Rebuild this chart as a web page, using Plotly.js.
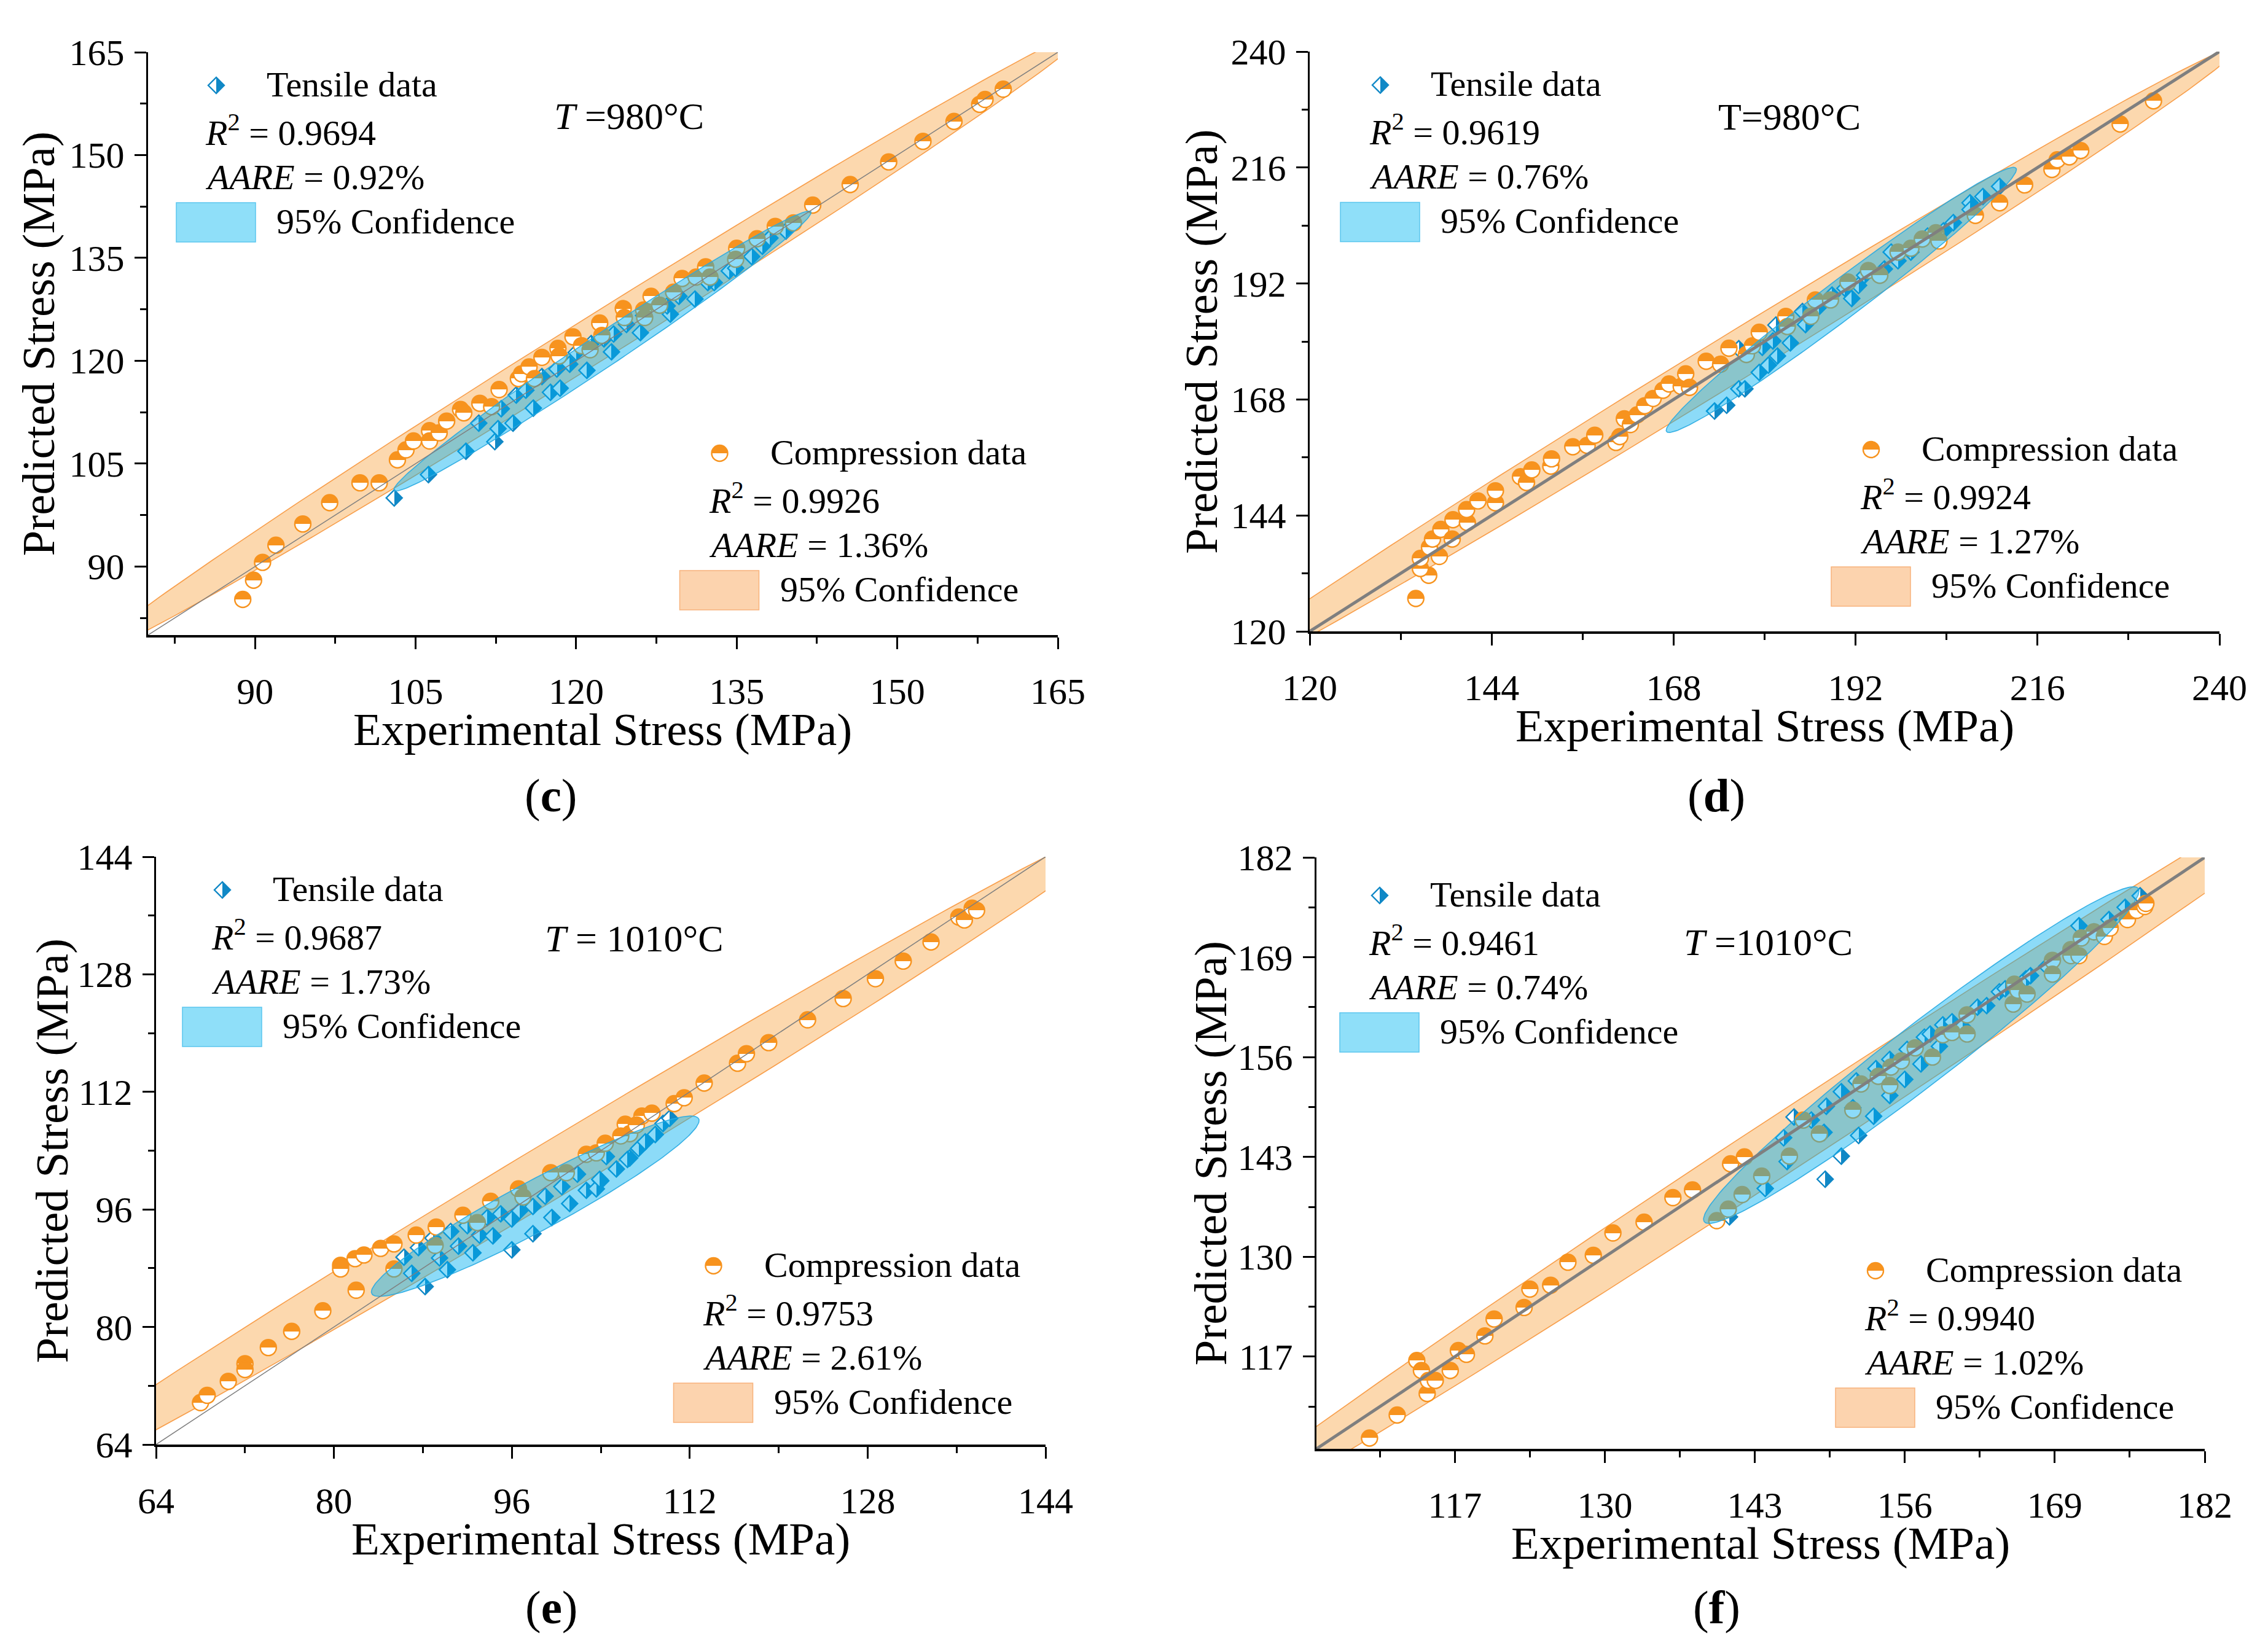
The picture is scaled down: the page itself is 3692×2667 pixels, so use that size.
<!DOCTYPE html>
<html><head><meta charset="utf-8">
<script src="https://cdn.plot.ly/plotly-3.0.1.min.js"></script>
<style>html,body{margin:0;padding:0;background:#fff}</style>
</head><body>
<div id="chart" style="width:3692px;height:2667px"></div>
<script>
// ---------------- DATA ----------------
// (c) T = 980°C
const cTensileX = [103.0,106.2,109.7,112.4,112.7,114.1,116.0,117.6,118.5,121.0,123.3,126.0,128.8,131.1,132.9,134.3,136.4,137.4,139.6,110.9,113.0,114.4,115.3,116.8,118.2,119.4,120.0,121.4,122.6,123.5,124.7,126.3,128.5,129.6,132.3,134.9,138.1];
const cTensileY = [100.0,103.4,106.8,108.2,110.1,110.9,113.1,115.4,116.0,118.6,121.3,124.1,126.8,129.0,131.4,133.1,135.2,136.7,138.9,110.9,113.0,115.0,115.7,117.7,118.8,119.5,121.2,122.5,123.2,123.9,125.3,126.6,128.0,129.4,131.4,133.5,137.9];
const cCompressionX = [88.85,89.86,90.7,91.95,94.46,96.97,99.8,101.6,103.3,104.1,104.8,106.3,106.3,107.2,107.9,109.2,109.5,111.0,112.1,112.8,114.6,114.9,115.6,116.1,116.8,118.3,118.4,119.7,120.5,121.3,122.2,122.4,124.4,124.5,126.3,126.4,127.0,127.8,129.1,129.9,131.2,132.1,132.5,135.0,134.9,136.9,138.6,140.3,142.1,145.6,149.2,152.4,155.3,157.7,158.2,159.9];
const cCompressionY = [85.2,88.0,90.6,93.1,96.2,99.3,102.2,102.2,105.55,107.0,108.3,109.8,108.3,109.5,111.2,112.9,112.4,113.8,113.3,115.8,117.4,118.1,119.1,117.4,120.5,121.8,120.7,123.5,122.2,121.6,125.5,123.7,127.6,126.3,127.4,126.3,129.4,128.1,130.0,132.0,132.2,133.7,132.2,136.4,134.8,137.8,139.6,140.1,142.7,145.7,149.0,152.0,154.9,157.4,158.1,159.6];

// (d) T = 980°C
const dTensileX = [173.4,175.0,176.6,177.4,179.3,180.5,181.7,176.6,179.7,181.5,183.4,181.1,185.4,185.0,187.2,188.9,190.6,192.4,193.2,195.8,197.6,196.7,199.3,201.5,203.6,204.9,207.1,208.8,211.0,207.1,191.5];
const dTensileY = [165.6,166.8,170.2,170.2,173.6,175.1,177.0,178.5,178.8,183.4,179.7,180.1,183.5,186.2,187.2,189.6,191.0,191.6,193.7,195.0,196.7,198.5,198.5,201.8,202.9,204.6,208.7,210.0,212.1,207.3,188.9];
const dCompressionX = [134.0,135.7,134.6,134.6,137.1,135.8,136.2,137.3,138.8,138.9,140.8,140.7,142.2,144.5,144.5,147.8,148.6,149.3,151.8,151.9,154.7,156.6,157.6,160.4,160.9,161.5,162.3,163.2,164.2,165.3,166.6,167.4,169.0,169.6,170.1,172.3,174.2,175.3,177.6,178.4,179.3,182.8,183.0,186.7,186.1,188.7,191.0,193.7,195.2,197.6,199.3,200.8,202.6,203.0,207.8,211.0,214.3,217.9,218.6,220.2,221.7,226.9,231.3];
const dCompressionY = [126.8,131.6,133.0,135.1,135.5,137.4,139.1,141.1,139.1,143.1,142.5,145.2,147.0,146.6,149.1,152.0,150.8,153.4,154.2,155.7,158.2,158.5,160.6,159.1,160.3,164.0,162.8,164.8,166.7,168.2,169.9,171.2,170.7,173.3,170.5,175.9,175.3,178.6,177.3,179.1,181.9,185.2,183.1,188.6,185.2,188.6,192.3,194.7,193.7,198.5,199.3,201.2,202.5,200.8,206.1,208.7,212.4,215.6,217.6,218.2,219.5,225.0,229.8];

// (e) T = 1010°C
const eTensileX = [86.3,87.0,88.2,87.6,88.9,89.5,90.2,90.5,91.2,92.0,92.5,93.1,93.8,94.3,95.0,96.0,96.0,96.7,97.9,97.9,99.0,99.6,100.5,101.2,101.9,102.7,104.0,104.5,105.4,106.6,107.4,108.0,108.9,109.6,110.2,103.6,103.9,106.4];
const eTensileY = [89.5,87.3,85.5,90.8,92.1,89.4,87.8,93.0,91.0,93.8,90.1,92.5,94.9,92.4,95.4,90.5,94.7,95.8,92.7,96.4,97.8,94.9,99.1,96.8,100.8,98.6,99.9,103.2,101.5,103.0,104.3,105.2,106.2,107.7,108.4,98.8,100.1,102.8];
const eCompressionX = [68.0,68.6,70.5,72.0,72.0,74.1,76.2,79.0,80.6,80.6,82.0,81.9,82.7,84.2,85.4,85.4,87.4,89.2,89.1,91.6,92.9,94.1,96.6,97.0,99.5,100.9,102.7,103.6,104.4,106.2,106.6,107.7,108.6,105.8,107.2,110.6,111.5,113.3,116.3,117.1,119.1,122.6,125.8,128.7,131.2,133.7,136.2,136.7,137.4,137.8];
const eCompressionY = [69.7,70.7,72.6,75.0,74.2,77.2,79.4,82.2,88.4,87.9,85.0,89.3,89.8,90.7,91.3,87.9,92.5,93.6,91.1,95.2,94.2,97.1,98.8,97.7,101.0,101.0,103.5,103.7,105.0,107.6,106.3,108.7,109.1,106.0,107.5,110.4,111.2,113.2,115.9,117.2,118.7,121.8,124.7,127.4,129.8,132.4,135.8,135.4,137.0,136.7];

// (f) T = 1010°C
const fTensileX = [140.8,143.9,145.8,145.5,146.4,149.1,150.5,152.0,153.3,147.9,149.0,149.2,150.5,151.5,151.8,153.5,154.7,154.7,156.0,156.2,157.4,157.7,158.2,159.0,159.3,160.1,161.0,162.3,163.1,164.2,164.7,166.5,166.9,168.3,171.1,172.4,173.7,175.1,176.4];
const fTensileY = [135.2,138.9,142.4,145.5,148.2,140.1,143.1,145.8,148.3,147.8,146.2,149.6,151.5,149.4,152.9,154.5,151.0,155.7,153.1,157.0,155.1,158.6,159.0,157.4,160.2,160.6,160.0,162.5,162.7,164.5,164.9,166.2,166.6,167.8,173.1,172.3,173.9,175.5,177.0];
const fCompressionX = [109.6,112.0,113.7,114.1,114.6,114.7,115.3,116.6,117.3,118.0,119.6,120.4,123.0,123.5,125.3,126.8,129.0,130.7,133.4,135.9,137.6,139.7,140.7,140.9,142.1,141.9,143.6,146.0,147.2,148.6,151.5,152.2,153.7,154.7,154.8,155.7,156.9,158.4,159.3,160.1,161.4,161.4,165.4,165.5,165.8,166.6,168.8,168.8,170.4,170.4,171.1,171.3,172.4,173.3,173.8,175.3,176.1,176.8,176.9];
const fCompressionY = [106.4,109.4,116.5,115.2,112.2,113.9,113.9,115.2,117.8,117.3,119.7,121.9,123.4,125.8,126.3,129.3,130.2,133.1,134.5,137.7,138.7,134.7,136.2,142.1,143.0,138.1,140.5,143.1,147.8,146.0,149.1,152.5,153.5,152.3,154.7,155.5,157.2,156.0,158.9,159.2,159.0,161.5,162.9,165.5,164.7,164.2,168.6,166.8,170.0,169.2,169.2,171.5,172.3,171.7,172.8,173.9,175.1,175.6,176.0];

// statistics text (per panel c, d, e, f)
const panelKeys = ['c','d','e','f'];
const r2Tensile = ['0.9694','0.9619','0.9687','0.9461'];
const aareTensile = ['0.92%','0.76%','1.73%','0.74%'];
const r2Compression = ['0.9926','0.9924','0.9753','0.9940'];
const aareCompression = ['1.36%','1.27%','2.61%','1.02%'];
const tempLabels = ['<i>T</i> =980°C','T=980°C','<i>T</i> = 1010°C','<i>T</i> =1010°C'];
const axisRanges = [[80,165],[120,240],[64,144],[105,182]];
const axisDticks = [15,24,16,13];
const axisMinor = [7.5,12,8,6.5];

// ---------------- STYLE / LAYOUT ----------------
const W = 3692, H = 2667;
const FONT = 'Liberation Serif, Times New Roman, Times, serif';
const TENS_COLOR = '#1088c6';
const COMP_COLOR = '#f7931e';
const K_TENS = 2.05, K_COMP = 2.55;   // ellipse scale factors

const series = {
  c: {tx: cTensileX, ty: cTensileY, qx: cCompressionX, qy: cCompressionY},
  d: {tx: dTensileX, ty: dTensileY, qx: dCompressionX, qy: dCompressionY},
  e: {tx: eTensileX, ty: eTensileY, qx: eCompressionX, qy: eCompressionY},
  f: {tx: fTensileX, ty: fTensileY, qx: fCompressionX, qy: fCompressionY}
};
const geom = {
  c: {box:[241,1722,85,1034], ta:[352,139], ca:[1171.5,738], tl:[900,211], pl:[897,1295], ytx:62, dw:1.5},
  d: {box:[2132,3613,84,1028], ta:[2247,138.5], ca:[3046,732], tl:[2795,212.5], pl:[2794,1295], ytx:1955, dw:5},
  e: {box:[254,1702,1395,2352], ta:[362,1449], ca:[1161.5,2061], tl:[885,1550], pl:[898,2617], ytx:84, dw:1.5},
  f: {box:[2143,3589,1396,2359], ta:[2246,1458], ca:[3053,2069], tl:[2739,1556], pl:[2794,2617], ytx:1970, dw:5}
};

function px(x){ return x / W; }
function py(y){ return 1 - y / H; }

function ellipse(xs, ys, k) {
  const n = xs.length;
  let mx = 0, my = 0;
  for (let i = 0; i < n; i++) { mx += xs[i]; my += ys[i]; }
  mx /= n; my /= n;
  let sxx = 0, syy = 0, sxy = 0;
  for (let i = 0; i < n; i++) {
    const dx = xs[i] - mx, dy = ys[i] - my;
    sxx += dx * dx; syy += dy * dy; sxy += dx * dy;
  }
  sxx /= (n - 1); syy /= (n - 1); sxy /= (n - 1);
  const tr = (sxx + syy) / 2;
  const det = Math.sqrt(((sxx - syy) / 2) ** 2 + sxy * sxy);
  const l1 = tr + det, l2 = Math.max(tr - det, 1e-9);
  const th = 0.5 * Math.atan2(2 * sxy, sxx - syy);
  const a = k * Math.sqrt(l1), b = k * Math.sqrt(l2);
  const ex = [], ey = [];
  for (let i = 0; i <= 240; i++) {
    const t = 2 * Math.PI * i / 240;
    ex.push(mx + a * Math.cos(th) * Math.cos(t) - b * Math.sin(th) * Math.sin(t));
    ey.push(my + a * Math.sin(th) * Math.cos(t) + b * Math.cos(th) * Math.sin(t));
  }
  return {x: ex, y: ey};
}

const tensMarker = {symbol:'diamond', size:20, color:'#ffffff', gradient:{type:'horizontal', color:TENS_COLOR}, line:{color:TENS_COLOR, width:2.4}};
const compMarker = {symbol:'circle', size:26, color:COMP_COLOR, gradient:{type:'vertical', color:'#ffffff'}, line:{color:COMP_COLOR, width:2.4}};

const data = [];
const layout = {
  width: W, height: H, margin:{l:0,r:0,t:0,b:0},
  paper_bgcolor:'#ffffff', plot_bgcolor:'rgba(0,0,0,0)',
  showlegend:false, font:{family:FONT, color:'#000'},
  annotations: [], shapes: []
};

function ann(text, x, y, size, xanchor, yanchor, extra) {
  return Object.assign({xref:'paper', yref:'paper', x:px(x), y:py(y), text:text, showarrow:false,
    xanchor:xanchor, yanchor:yanchor, font:{family:FONT, size:size, color:'#000'}}, extra || {});
}

const legSymX = [], legSymY = [], legCompX = [], legCompY = [];

panelKeys.forEach((key, i) => {
  const s = series[key], g = geom[key];
  const n = i + 1;
  const xa = 'x' + (n === 1 ? '' : n), ya = 'y' + (n === 1 ? '' : n);
  const xName = 'xaxis' + (n === 1 ? '' : n), yName = 'yaxis' + (n === 1 ? '' : n);
  const range = axisRanges[i], dt = axisDticks[i], mn = axisMinor[i];
  const [x0, x1, y0, y1] = g.box;

  const common = {range: range, autorange:false, dtick: dt, tick0: 0, showgrid:false, zeroline:false,
    showline:true, linecolor:'#000', linewidth:3.5, tickcolor:'#000', tickwidth:3, ticklen:19};
  layout[xName] = Object.assign({}, common, {domain:[px(x0), px(x1)], anchor: ya, ticks:'outside',
    tickfont:{family:FONT, size:60, color:'#000'}, ticklabelstandoff: 17,
    minor:{dtick: mn, tick0: 0, ticks:'outside', ticklen:10, tickwidth:3, tickcolor:'#000', showgrid:false}});
  layout[yName] = Object.assign({}, common, {domain:[py(y1), py(y0)], anchor: xa, ticks:'outside',
    tickfont:{family:FONT, size:60, color:'#000'}, ticklabelstandoff: 4,
    minor:{dtick: mn, tick0: 0, ticks:'outside', ticklen:10, tickwidth:3, tickcolor:'#000', showgrid:false}});
  // mirrored axes with inward ticks (top & right)
  const m = n + 4;
  layout['xaxis' + m] = Object.assign({}, common, {overlaying: xa, side:'top', anchor: ya, ticks:'inside',
    showticklabels:false, minor:{dtick: mn, tick0: 0, ticks:'inside', ticklen:10, tickwidth:3, tickcolor:'#000'}});
  layout['yaxis' + m] = Object.assign({}, common, {overlaying: ya, side:'right', anchor: xa, ticks:'inside',
    showticklabels:false, minor:{dtick: mn, tick0: 0, ticks:'inside', ticklen:10, tickwidth:3, tickcolor:'#000'}});

  const eC = ellipse(s.qx, s.qy, K_COMP);
  const eT = ellipse(s.tx, s.ty, K_TENS);
  data.push({type:'scatter', mode:'lines', x:eC.x, y:eC.y, xaxis:xa, yaxis:ya, fill:'toself',
    fillcolor:'rgba(247,147,30,0.36)', line:{color:'rgba(247,150,60,0.9)', width:1.6}, hoverinfo:'skip'});
  data.push({type:'scatter', mode:'markers', x:s.tx, y:s.ty, xaxis:xa, yaxis:ya, marker:tensMarker, name:'Tensile data'});
  data.push({type:'scatter', mode:'markers', x:s.qx, y:s.qy, xaxis:xa, yaxis:ya, marker:compMarker, name:'Compression data'});
  data.push({type:'scatter', mode:'lines', x:eT.x, y:eT.y, xaxis:xa, yaxis:ya, fill:'toself',
    fillcolor:'rgba(0,176,240,0.45)', line:{color:'rgba(40,170,225,0.9)', width:1.6}, hoverinfo:'skip'});
  data.push({type:'scatter', mode:'lines', x:range, y:range, xaxis:xa, yaxis:ya,
    line:{color:'#7f7f7f', width:g.dw}, hoverinfo:'skip'});

  // legend blocks
  const blocks = [
    {a:g.ta, label:'Tensile data', r2:r2Tensile[i], aare:aareTensile[i], fill:'#8fdff9', edge:'#5cc6ee', tens:true},
    {a:g.ca, label:'Compression data', r2:r2Compression[i], aare:aareCompression[i], fill:'#fcd3ae', edge:'#f8b37c', tens:false}
  ];
  blocks.forEach(b => {
    const [sx, sy] = b.a;
    if (b.tens) { legSymX.push(sx); legSymY.push(sy); } else { legCompX.push(sx); legCompY.push(sy); }
    const fs = 58, dsc = 0.22 * fs;
    layout.annotations.push(ann(b.label, sx + 80, sy + 20 + dsc, fs, 'left', 'bottom'));
    layout.annotations.push(ann('<i>R</i><sup>2</sup> = ' + b.r2, sx - 20, sy + 99 + dsc, fs, 'left', 'bottom'));
    layout.annotations.push(ann('<i>AARE</i> = ' + b.aare, sx - 20, sy + 171 + dsc, fs, 'left', 'bottom'));
    layout.annotations.push(ann('95% Confidence', sx + 96, sy + 243 + dsc, fs, 'left', 'bottom'));
    layout.shapes.push({type:'rect', xref:'paper', yref:'paper', x0:px(sx - 65), x1:px(sx + 64),
      y0:py(sy + 255), y1:py(sy + 191), fillcolor:b.fill, line:{color:b.edge, width:1.5}});
  });
  layout.annotations.push(ann(tempLabels[i], g.tl[0], g.tl[1] + 0.22 * 62, 62, 'left', 'bottom'));
  layout.annotations.push(ann('(<b>' + key + '</b>)', g.pl[0], g.pl[1], 77, 'center', 'middle'));
  layout.annotations.push(ann('Experimental Stress (MPa)', (x0 + x1) / 2, y1 + 153, 75, 'center', 'middle'));
  layout.annotations.push(ann('Predicted Stress (MPa)', g.ytx, (y0 + y1) / 2, 75, 'center', 'middle', {textangle:-90}));
});

// full-page pixel axes for the legend symbols
layout.xaxis9 = {domain:[0,1], range:[0,W], autorange:false, visible:false, showticklabels:false, anchor:'y9', fixedrange:true};
layout.yaxis9 = {domain:[0,1], range:[H,0], autorange:false, visible:false, showticklabels:false, anchor:'x9', fixedrange:true};
data.push({type:'scatter', mode:'markers', x:legSymX, y:legSymY, xaxis:'x9', yaxis:'y9', marker:tensMarker, hoverinfo:'skip', cliponaxis:false});
data.push({type:'scatter', mode:'markers', x:legCompX, y:legCompY, xaxis:'x9', yaxis:'y9', marker:compMarker, hoverinfo:'skip', cliponaxis:false});

const gd = document.getElementById('chart');
Plotly.newPlot(gd, data, layout, {staticPlot:true}).then(() => {
  // make the two-colour marker gradients a hard half/half split
  gd.querySelectorAll('linearGradient').forEach(lg => {
    lg.querySelectorAll('stop').forEach(st => st.setAttribute('offset', '50%'));
  });
});
</script>
</body></html>
